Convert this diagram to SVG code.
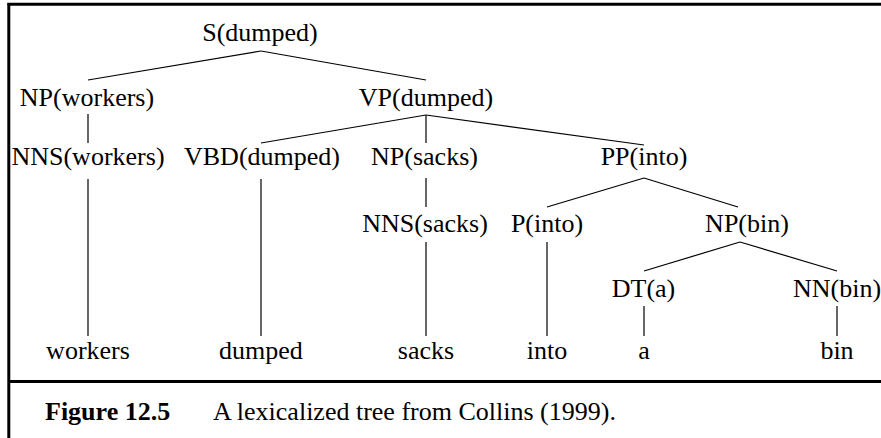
<svg xmlns="http://www.w3.org/2000/svg" width="881" height="438" viewBox="0 0 881 438">
<defs>
<style>
.e{stroke:#000;stroke-width:1.2;fill:none}
.f{stroke:#000;stroke-width:3;fill:none}
</style>
</defs>
<rect x="0" y="0" width="881" height="438" fill="#fff"/>
<g id="frame">
<line class="f" x1="7.5" y1="4.2" x2="881" y2="4.2"/>
<line class="f" x1="8.8" y1="3" x2="8.8" y2="438"/>
<line class="f" x1="8.8" y1="381.6" x2="881" y2="381.6"/>
</g>
<g id="connectors">
<line class="e" x1="261" y1="51" x2="88" y2="80"/>
<line class="e" x1="261" y1="51" x2="426" y2="80"/>
<line class="e" x1="88" y1="114" x2="88" y2="143"/>
<line class="e" x1="88" y1="179" x2="88" y2="336"/>
<line class="e" x1="426" y1="115" x2="261" y2="143"/>
<line class="e" x1="426" y1="115" x2="426" y2="143"/>
<line class="e" x1="426" y1="115" x2="644" y2="145"/>
<line class="e" x1="261" y1="179" x2="261" y2="336"/>
<line class="e" x1="426" y1="178" x2="426" y2="207"/>
<line class="e" x1="426" y1="242" x2="426" y2="336"/>
<line class="e" x1="644" y1="178" x2="547" y2="207"/>
<line class="e" x1="644" y1="178" x2="738" y2="207"/>
<line class="e" x1="547" y1="242" x2="547" y2="336"/>
<line class="e" x1="740" y1="242" x2="644" y2="271"/>
<line class="e" x1="740" y1="242" x2="837" y2="271"/>
<line class="e" x1="644" y1="306" x2="644" y2="336"/>
<line class="e" x1="837" y1="306" x2="837" y2="336"/>
</g>
<g id="S"><text text-anchor="middle" font-family="Liberation Serif" font-size="26" x="260" y="41">S(dumped)</text></g>
<g id="NP_workers"><text text-anchor="middle" font-family="Liberation Serif" font-size="26" x="87" y="106">NP(workers)</text></g>
<g id="VP"><text text-anchor="middle" font-family="Liberation Serif" font-size="26" x="426" y="106">VP(dumped)</text></g>
<g id="NNS_workers"><text text-anchor="middle" font-family="Liberation Serif" font-size="26" x="88" y="165">NNS(workers)</text></g>
<g id="VBD"><text text-anchor="middle" font-family="Liberation Serif" font-size="26" x="262" y="165">VBD(dumped)</text></g>
<g id="NP_sacks"><text text-anchor="middle" font-family="Liberation Serif" font-size="26" x="424.5" y="165">NP(sacks)</text></g>
<g id="PP"><text text-anchor="middle" font-family="Liberation Serif" font-size="26" x="644" y="165">PP(into)</text></g>
<g id="NNS_sacks"><text text-anchor="middle" font-family="Liberation Serif" font-size="26" x="425" y="232">NNS(sacks)</text></g>
<g id="P_into"><text text-anchor="middle" font-family="Liberation Serif" font-size="26" x="547" y="232">P(into)</text></g>
<g id="NP_bin"><text text-anchor="middle" font-family="Liberation Serif" font-size="26" x="747" y="232">NP(bin)</text></g>
<g id="DT"><text text-anchor="middle" font-family="Liberation Serif" font-size="26" x="643.5" y="297">DT(a)</text></g>
<g id="NN"><text text-anchor="middle" font-family="Liberation Serif" font-size="26" x="837" y="297">NN(bin)</text></g>
<g id="w_workers"><text text-anchor="middle" font-family="Liberation Serif" font-size="26" x="88" y="359">workers</text></g>
<g id="w_dumped"><text text-anchor="middle" font-family="Liberation Serif" font-size="26" x="261" y="359">dumped</text></g>
<g id="w_sacks"><text text-anchor="middle" font-family="Liberation Serif" font-size="26" x="426" y="359">sacks</text></g>
<g id="w_into"><text text-anchor="middle" font-family="Liberation Serif" font-size="26" x="547" y="359">into</text></g>
<g id="w_a"><text text-anchor="middle" font-family="Liberation Serif" font-size="26" x="644" y="359">a</text></g>
<g id="w_bin"><text text-anchor="middle" font-family="Liberation Serif" font-size="26" x="837" y="359">bin</text></g>
<g id="caption">
<text font-family="Liberation Serif" font-size="26" font-weight="bold" x="45" y="420">Figure 12.5</text>
<text font-family="Liberation Serif" font-size="26" x="213" y="420">A lexicalized tree from Collins (1999).</text>
</g>
</svg>
